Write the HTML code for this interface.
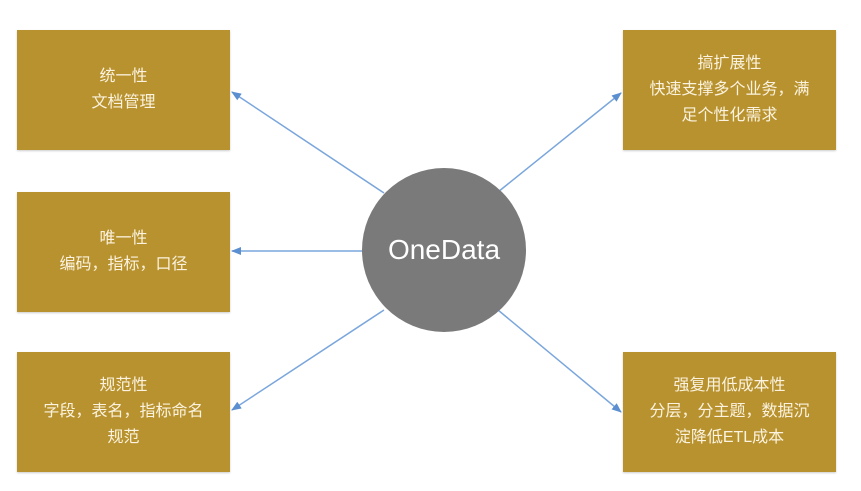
<!DOCTYPE html>
<html><head><meta charset="utf-8"><style>
body{margin:0;width:861px;height:491px;background:#fff;position:relative;overflow:hidden;font-family:"Liberation Sans","Noto Sans CJK SC",sans-serif}
.b{position:absolute;width:213px;height:120px;background:#b8922f;color:#fbf3df;font-size:16px;line-height:26px;display:flex;align-items:center;justify-content:center;text-align:center;box-shadow:0 1px 2px rgba(0,0,0,.2)}
.c{position:absolute;left:362px;top:168px;width:164px;height:164px;border-radius:50%;background:#7a7a7a;color:#fff;font-size:28px;display:flex;align-items:center;justify-content:center}
svg{position:absolute;left:0;top:0}
</style></head><body>
<svg width="861" height="491"><defs><marker id="a" markerWidth="10" markerHeight="8" refX="9" refY="4" orient="auto" markerUnits="userSpaceOnUse"><path d="M0,0L10,4L0,8z" fill="#5b8fd0"/></marker></defs>
<g stroke="#7aa6dc" stroke-width="1.5" fill="none" marker-end="url(#a)">
<line x1="384" y1="193" x2="232" y2="92"/>
<line x1="362" y1="251" x2="232" y2="251"/>
<line x1="384" y1="310" x2="232" y2="410"/>
<line x1="498" y1="192" x2="621" y2="93"/>
<line x1="498" y1="310" x2="621" y2="412"/>
</g></svg>
<div class="b" style="left:17px;top:30px">统一性<br>文档管理</div>
<div class="b" style="left:17px;top:192px">唯一性<br>编码，指标，口径</div>
<div class="b" style="left:17px;top:352px">规范性<br>字段，表名，指标命名<br>规范</div>
<div class="b" style="left:623px;top:30px">搞扩展性<br>快速支撑多个业务，满<br>足个性化需求</div>
<div class="b" style="left:623px;top:352px">强复用低成本性<br>分层，分主题，数据沉<br>淀降低ETL成本</div>
<div class="c">OneData</div>
</body></html>
